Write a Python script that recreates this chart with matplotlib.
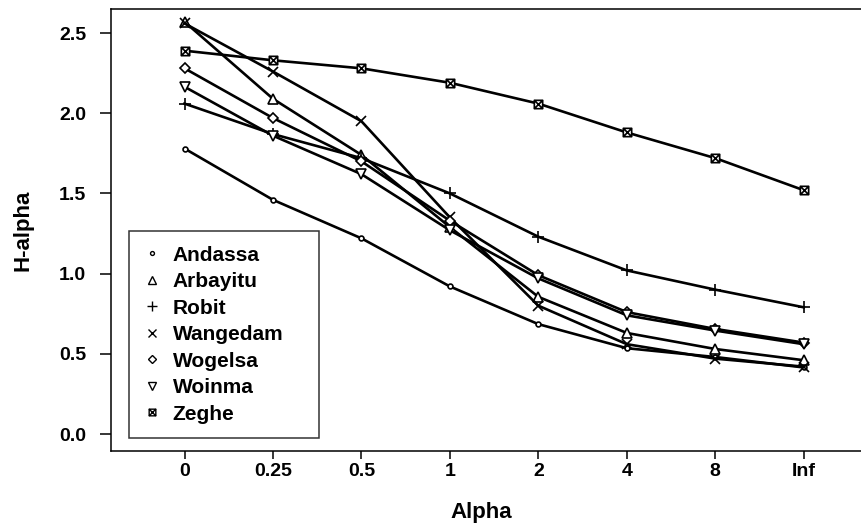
import numpy as np
import matplotlib
matplotlib.use('Agg')
import matplotlib.pyplot as plt
from matplotlib.path import Path
from matplotlib.lines import Line2D

plt.rcParams['font.family'] = ['Liberation Sans', 'DejaVu Sans']
plt.rcParams['font.weight'] = 'bold'

# values
alpha_labels = ['0', '0.25', '0.5', '1', '2', '4', '8', 'Inf']
andassa = [1.78, 1.46, 1.22, 0.92, 0.685, 0.535, 0.48, 0.415]
arbayitu = [2.57, 2.09, 1.74, 1.29, 0.855, 0.63, 0.53, 0.46]
robit = [2.06, 1.87, 1.72, 1.50, 1.23, 1.02, 0.90, 0.79]
wangedam = [2.56, 2.26, 1.95, 1.35, 0.80, 0.56, 0.47, 0.42]
wogelsa = [2.28, 1.97, 1.70, 1.33, 0.99, 0.76, 0.655, 0.57]
woinma = [2.165, 1.86, 1.62, 1.27, 0.97, 0.74, 0.645, 0.56]
zeghe = [2.39, 2.33, 2.28, 2.19, 2.06, 1.88, 1.72, 1.52]

# square with a cross inside, for Zeghe
boxx = Path([(-1, -1), (1, -1), (1, 1), (-1, 1), (-1, -1),
             (-1, -1), (1, 1), (-1, 1), (1, -1)],
            [Path.MOVETO, Path.LINETO, Path.LINETO, Path.LINETO, Path.CLOSEPOLY,
             Path.MOVETO, Path.LINETO, Path.MOVETO, Path.LINETO])

series = [
    ('Andassa', andassa, 'o', 3.5),
    ('Arbayitu', arbayitu, '^', 6.5),
    ('Robit', robit, '+', 9),
    ('Wangedam', wangedam, 'x', 7),
    ('Wogelsa', wogelsa, 'D', 5.5),
    ('Woinma', woinma, 'v', 6.5),
    ('Zeghe', zeghe, boxx, 6),
]

fig = plt.figure(figsize=(8.61, 5.30), dpi=100)
ax = fig.add_axes([111/861, 1 - 450.7/530, 760/861, (450.7 - 9.3)/530])

x = np.arange(len(alpha_labels))
for name, vals, mk, ms in series:
    ax.plot(x, vals, color='black', lw=1.9, marker=mk, ms=ms,
            mfc='white', mec='black', mew=1.2)

ax.set_xlim(-0.831, 7.76)
ax.set_ylim(-0.104, 2.648)
ax.set_xticks(x)
ax.set_xticklabels(alpha_labels)
ax.set_yticks([0.0, 0.5, 1.0, 1.5, 2.0, 2.5])
ax.set_yticklabels(['0.0', '0.5', '1.0', '1.5', '2.0', '2.5'])
ax.tick_params(axis='y', length=8, width=1.1, pad=10, labelsize=14)
ax.tick_params(axis='x', length=6, width=1.1, pad=3, labelsize=14)
for s in ax.spines.values():
    s.set_linewidth(1.1)
ax.spines['right'].set_visible(False)

ax.set_xlabel('Alpha', fontsize=16, fontweight='bold')
ax.set_ylabel('H-alpha', fontsize=16, fontweight='bold')
ax.xaxis.set_label_coords(0.487, -0.116)
ax.yaxis.set_label_coords(-0.102, 0.5)

handles = [Line2D([], [], ls='none', color='black', marker=mk, ms=ms * 0.8,
                  mfc='white', mec='black', mew=1.0)
           for name, vals, mk, ms in series]
leg = ax.legend(handles, [s[0] for s in series], loc='upper left',
                bbox_to_anchor=(129/861, 1 - 231/530, 190/861, 0.0),
                bbox_transform=fig.transFigure, mode='expand',
                frameon=True, fancybox=False, borderaxespad=0, handlelength=0.8,
                handletextpad=0.6, labelspacing=0.36, borderpad=0.7,
                prop={'size': 15, 'weight': 'bold'})
leg.get_frame().set_edgecolor('black')
leg.get_frame().set_linewidth(1.1)

fig.savefig('out.png', dpi=100)
